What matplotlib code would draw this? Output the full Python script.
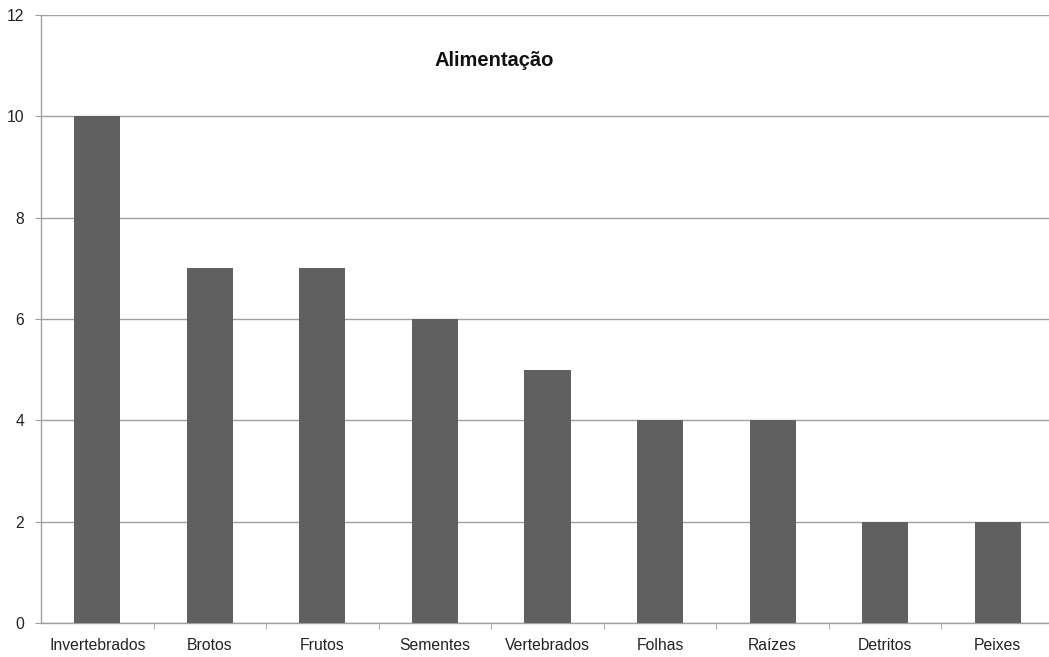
import matplotlib
matplotlib.use("Agg")
import matplotlib.pyplot as plt

# Dados do gráfico
categorias = ["Invertebrados", "Brotos", "Frutos", "Sementes", "Vertebrados",
              "Folhas", "Raízes", "Detritos", "Peixes"]
valores = [10, 7, 7, 6, 5, 4, 4, 2, 2]
yticks = [0, 2, 4, 6, 8, 10, 12]

plt.rcParams['font.family'] = ['Liberation Sans', 'DejaVu Sans']

fig = plt.figure(figsize=(10.49, 6.57), dpi=100)
# a área do gráfico passa um pouco da borda direita
ax = fig.add_axes([41 / 1049, 1 - 623 / 657, 1013 / 1049, (623 - 15) / 657])

x = list(range(len(categorias)))
ax.bar(x, valores, width=0.41, color='#606060', zorder=3)

ax.set_xlim(-0.5, len(categorias) - 0.5)
ax.set_ylim(0, 12)
ax.set_yticks(yticks)
ax.yaxis.grid(True, color='#a0a0a0', linewidth=1, zorder=0)

# eixo x: rótulos nas categorias, marcas nas divisões
ax.set_xticks(x)
ax.set_xticklabels(categorias)
ax.set_xticks([i + 0.5 for i in x[:-1]], minor=True)
ax.tick_params(axis='x', which='major', length=0, pad=11, labelsize=11.3, labelcolor='#222222')
ax.tick_params(axis='x', which='minor', length=4, color='#a0a0a0')
ax.tick_params(axis='y', length=4, color='#a0a0a0', labelsize=11.3, labelcolor='#222222', pad=8)

for s in ['top', 'right']:
    ax.spines[s].set_visible(False)
for s in ['left', 'bottom']:
    ax.spines[s].set_color('#a0a0a0')
    ax.spines[s].set_linewidth(1)

ax.text((494 - 41) / 1013, (623 - 60) / 608, "Alimentação", transform=ax.transAxes,
        ha='center', va='center', fontsize=14.5, fontweight='bold', color='#111111')

fig.savefig("out.png", dpi=100)
